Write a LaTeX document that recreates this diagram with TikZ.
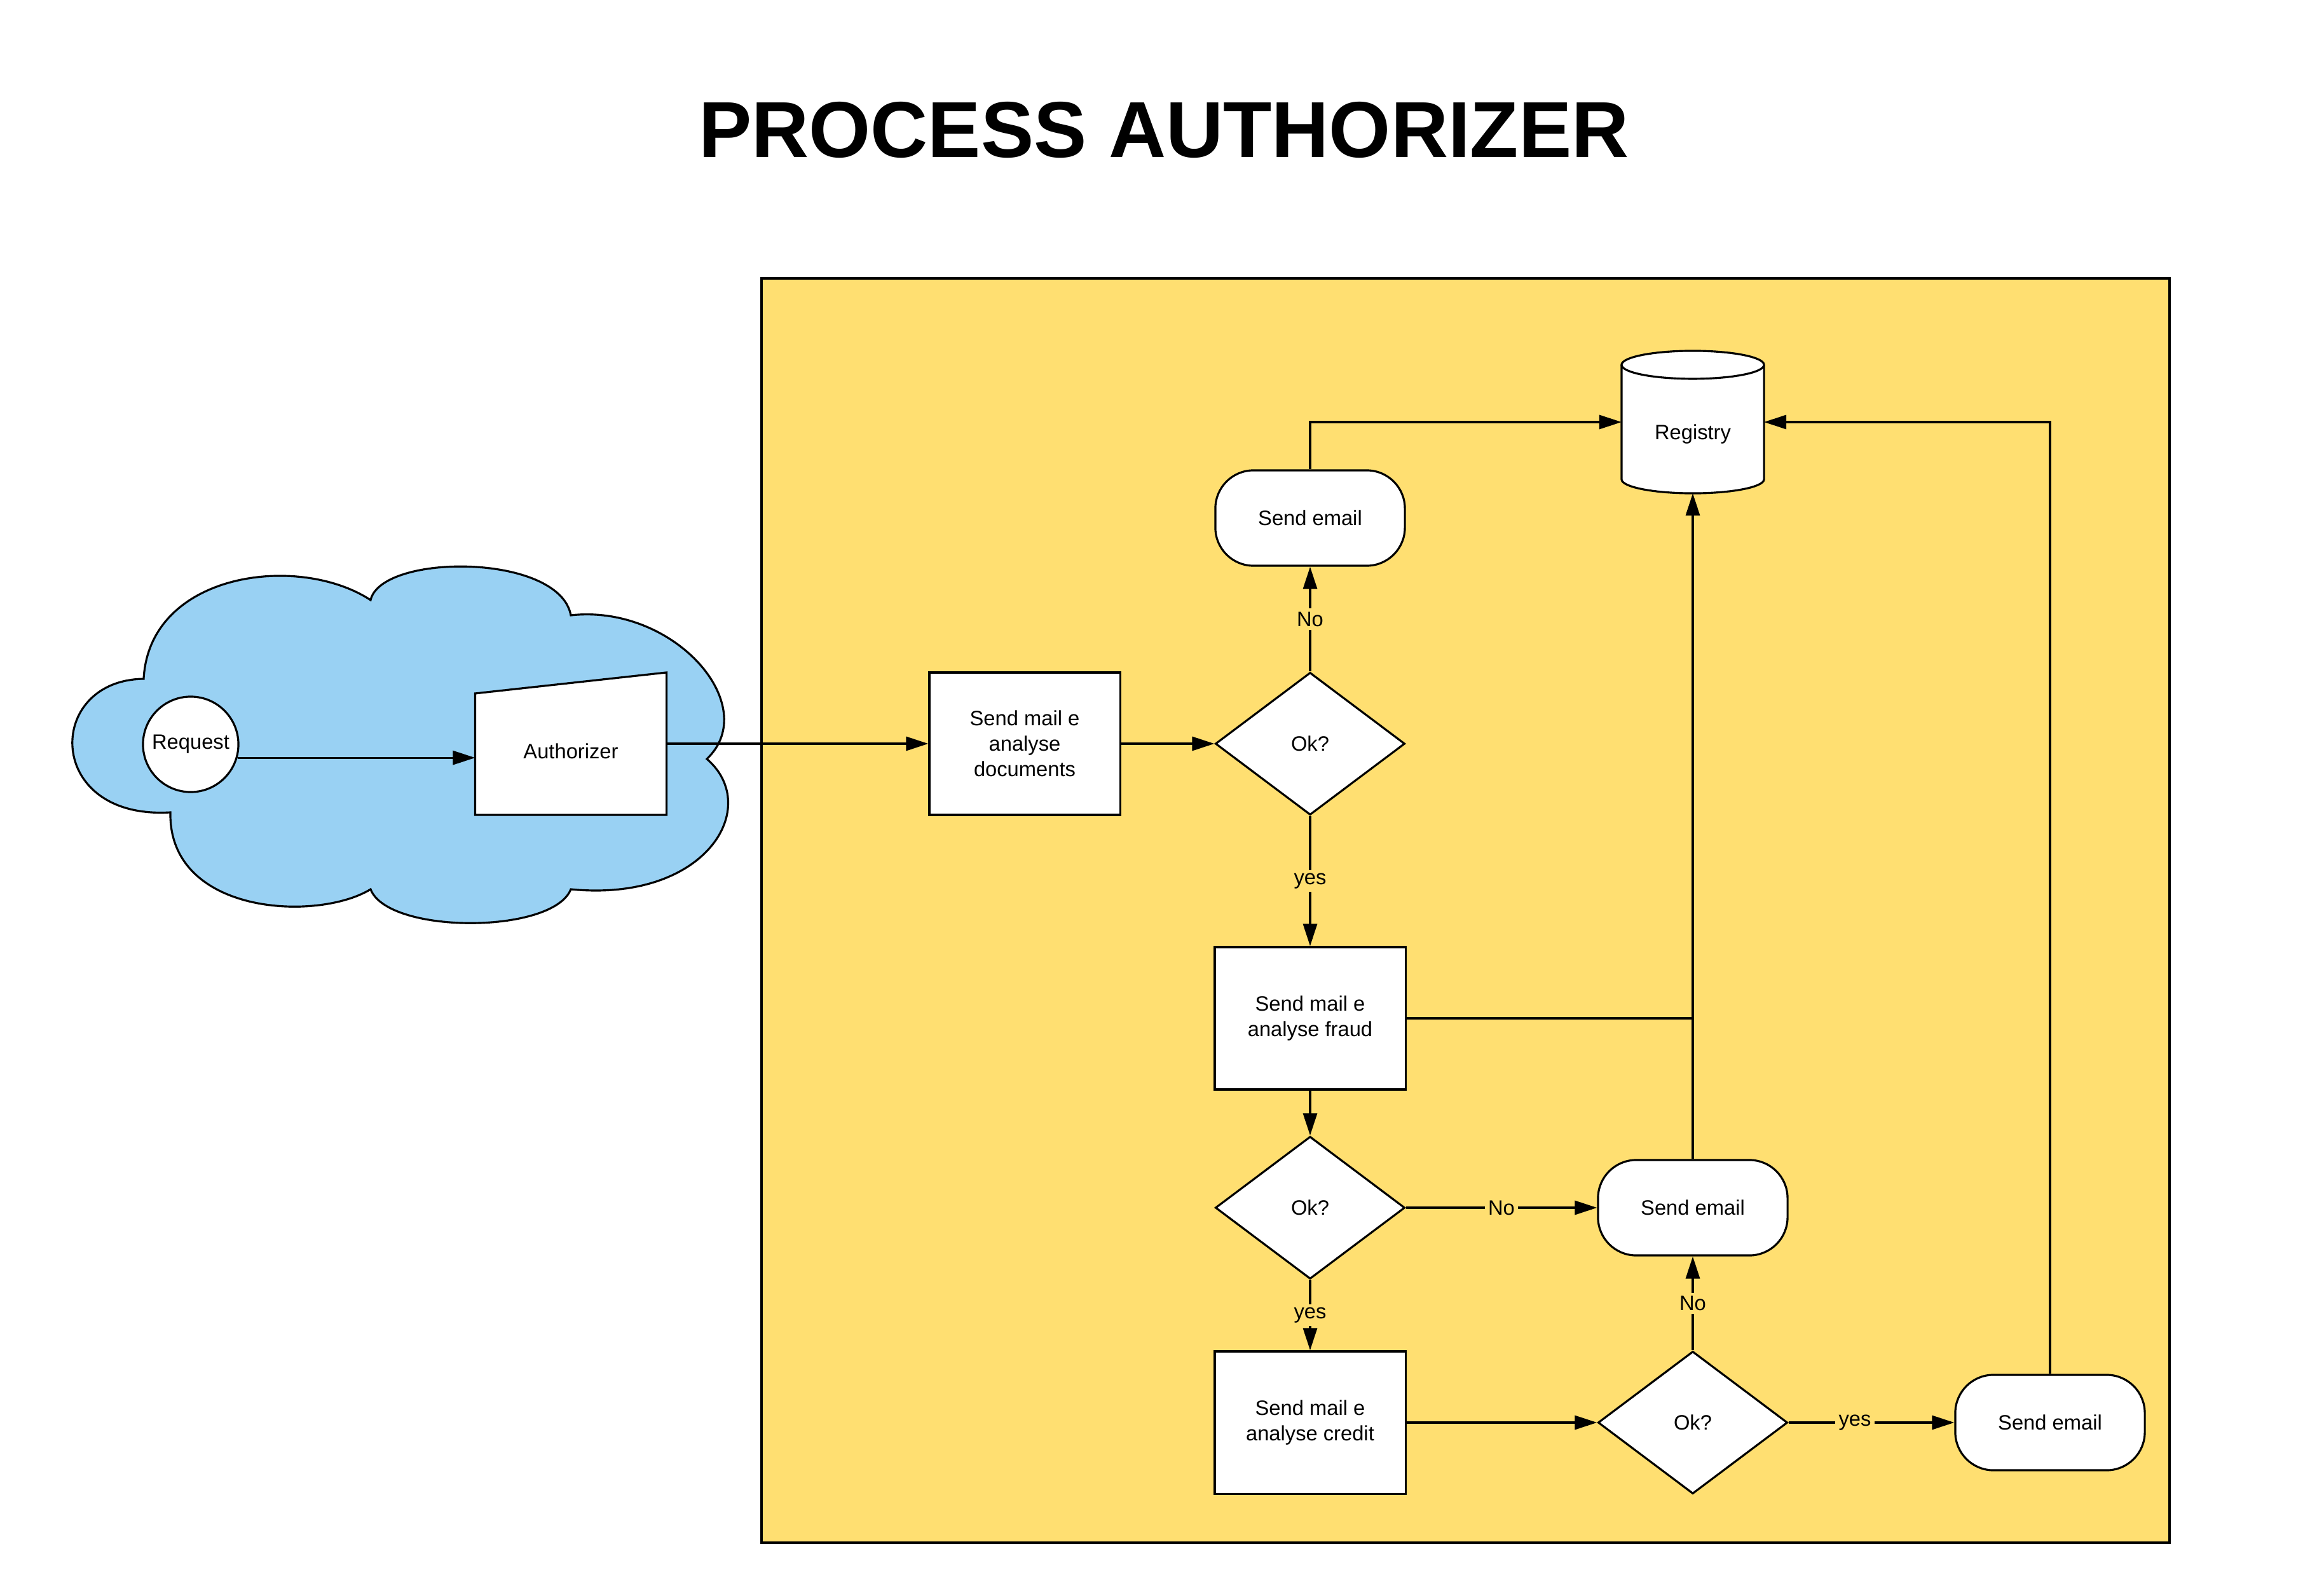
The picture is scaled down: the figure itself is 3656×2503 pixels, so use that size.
\documentclass[tikz,border=0pt]{standalone}
\usepackage{fontspec}
\setmainfont{Liberation Sans}
\usepackage{tikz}
\usetikzlibrary{positioning,calc,shapes.geometric,arrows.meta}
\definecolor{laneyellow}{HTML}{FFDF71}
\definecolor{cloudblue}{HTML}{99D1F3}

\begin{document}
\begin{tikzpicture}[
    x=0.01cm, y=-0.01cm,
    every node/.style={font=\fontsize{9.3}{11.3}\selectfont},
    outline/.style={draw, fill=white, line width=0.9pt},
    proc/.style={outline, rectangle,
                 minimum width=3cm,
                 minimum height=2.24cm,
                 align=center, inner sep=2pt},
    decide/.style={outline, diamond,
                   minimum width=2.98cm,
                   minimum height=2.24cm,
                   inner sep=0pt},
    term/.style={outline, rectangle, rounded corners=0.6cm,
                 minimum width=2.98cm,
                 minimum height=1.5cm},
    holder/.style={inner sep=0pt, outer sep=0pt},
    conn/.style={line width=0.9pt},
    arr/.style={conn, -{Triangle[length=0.35cm,width=0.22cm]}},
    lbl/.style={fill=laneyellow, inner sep=1.5pt}
]
\useasboundingbox (0,0) rectangle (3656,2503);

\node[font=\bfseries\fontsize{35.5}{40}\selectfont] (title) at (1831,205) {PROCESS AUTHORIZER};

% background areas
\draw[conn, fill=laneyellow] (1198,438) rectangle (3413,2427);
\draw[conn, fill=cloudblue] (226,1068)
    .. controls (235,900) and (470,870) .. (583,944)
    .. controls (600,870) and (880,870) .. (898,968)
    .. controls (1060,950) and (1200,1110) .. (1112,1194)
    .. controls (1200,1270) and (1110,1420) .. (898,1399)
    .. controls (870,1470) and (610,1470) .. (583,1399)
    .. controls (500,1450) and (265,1440) .. (268,1278)
    .. controls (70,1290) and (70,1070) .. (226,1068) -- cycle;

\node[outline, circle, minimum size=1.5cm, inner sep=0pt] (req) at (300,1171) {Request};

\node[holder, minimum width=3.01cm, minimum height=2.24cm] (auth) at (898,1170) {};
\draw[outline] (auth.south west) -- ([yshift=-0.33cm]auth.north west)
    -- (auth.north east) -- (auth.south east) -- cycle;
\node (auth-txt) at ([yshift=-0.12cm]auth.center) {Authorizer};

\node[proc] (docs) at (1612,1170) {Send mail e\\analyse\\documents};
\node[decide] (ok1) at (2061,1170) {Ok?};
\node[term] (mail1) at (2061,815) {Send email};

\node[holder, minimum width=2.24cm, minimum height=2.24cm] (reg) at (2663,664) {};
\path[outline] ([yshift=-0.22cm]reg.north west) -- ([yshift=0.22cm]reg.south west)
    arc[start angle=180, end angle=360, x radius=1.12cm, y radius=0.22cm]
    -- ([yshift=-0.22cm]reg.north east)
    arc[start angle=0, end angle=180, x radius=1.12cm, y radius=0.22cm] -- cycle;
\draw[conn] ([yshift=-0.22cm]reg.north west)
    arc[start angle=180, end angle=360, x radius=1.12cm, y radius=0.22cm];
\node (reg-txt) at ([yshift=-0.19cm]reg.center) {Registry};

\node[proc] (fraud) at (2061,1602) {Send mail e\\analyse fraud};
\node[decide] (ok2) at (2061,1900) {Ok?};
\node[term] (mail2) at (2663,1900) {Send email};
\node[proc] (credit) at (2061,2238) {Send mail e\\analyse credit};
\node[decide] (ok3) at (2663,2238) {Ok?};
\node[term] (mail3) at (3225,2238) {Send email};

% connectors
\draw[arr] (req.-16) -- (req.-16 -| auth.west);
\draw[arr] (auth.east) -- (docs.west);
\draw[arr] (docs) -- (ok1);
\draw[arr] (ok1.north) -- node[lbl] {No} (mail1.south);
\draw[arr] (mail1.north) |- (reg.west);
\draw[arr] (ok1.south) -- node[lbl] {yes} (fraud.north);
\draw[conn] (fraud.east) -- (fraud.east -| reg.south);
\draw[arr] (mail2.north) -- (reg.south);
\draw[arr] (fraud.south) -- (ok2.north);
\draw[arr] (ok2.east) -- node[lbl] {No} (mail2.west);
\draw[arr] (ok2.south) -- node[lbl] {yes} (credit.north);
\draw[arr] (credit.east) -- (ok3.west);
\draw[arr] (ok3.north) -- node[lbl] {No} (mail2.south);
\draw[arr] (ok3.east) -- node[lbl, pos=0.4] {yes} (mail3.west);
\draw[arr] (mail3.north) |- (reg.east);
\end{tikzpicture}
\end{document}
